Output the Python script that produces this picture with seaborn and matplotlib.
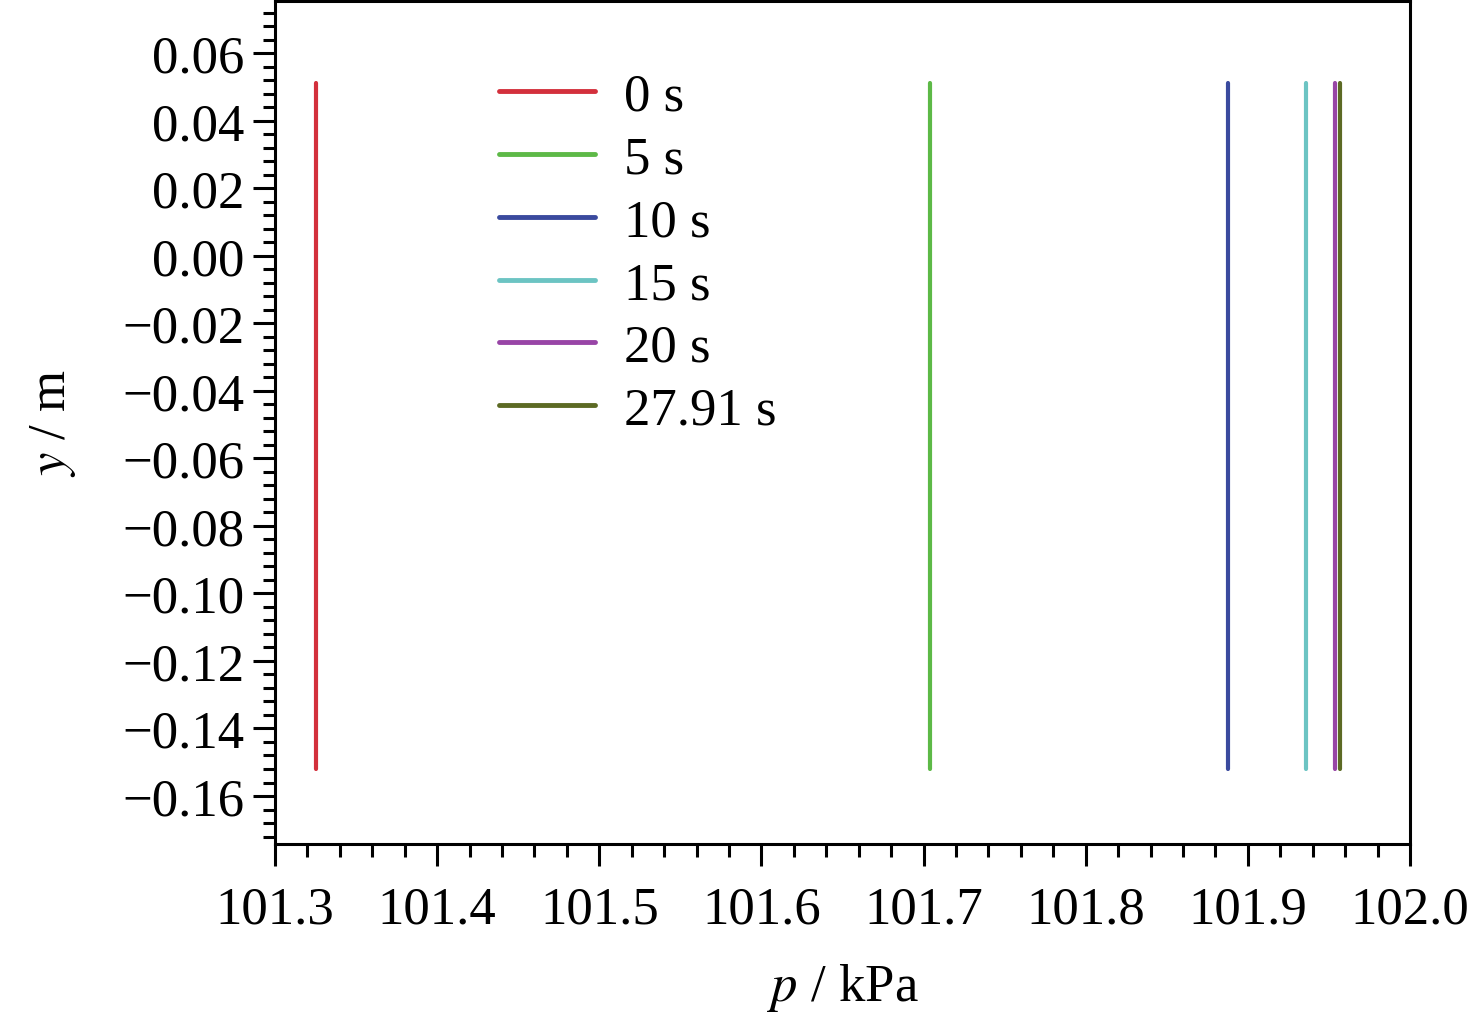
import numpy as np
import pandas as pd
import matplotlib
matplotlib.use("Agg")
import matplotlib.pyplot as plt
from matplotlib.ticker import MultipleLocator, FuncFormatter
import seaborn as sns

# 各时刻的压力分布（沿高度方向几乎不变）
labels = ["0 s", "5 s", "10 s", "15 s", "20 s", "27.91 s"]
y_pts = [-0.152, -0.067, 0.051]
p_0 = [101.325, 101.325, 101.325]
p_5 = [101.704, 101.704, 101.704]
p_10 = [101.888, 101.888, 101.888]
p_15 = [101.936, 101.936, 101.936]
p_20 = [101.9535, 101.9535, 101.9535]
p_2791 = [101.957, 101.957, 101.957]
colors = ["#d3303c", "#5db947", "#3a4a9e", "#6cc4c3", "#9845a6", "#5c6a24"]

series = [p_0, p_5, p_10, p_15, p_20, p_2791]
rows = []
for lab, ps in zip(labels, series):
    for p, y in zip(ps, y_pts):
        rows.append({"p": p, "y": y, "t": lab})
df = pd.DataFrame(rows)

sns.set_style("ticks")
plt.rcParams["font.family"] = ["Liberation Serif", "DejaVu Serif"]
plt.rcParams["mathtext.fontset"] = "stix"
plt.rcParams["text.color"] = "black"
plt.rcParams["axes.labelcolor"] = "black"
plt.rcParams["xtick.color"] = "black"
plt.rcParams["ytick.color"] = "black"

fig = plt.figure(figsize=(14.76, 10.2), dpi=100)
ax = fig.add_axes([0.1863, 0.1716, 0.769, 0.8264])

sns.lineplot(data=df, x="p", y="y", hue="t", hue_order=labels,
             palette=colors, sort=False, estimator=None, orient="y",
             linewidth=3, ax=ax)

ax.set_xlim(101.3, 102.0)
ax.set_ylim(-0.1742, 0.0754)
ax.xaxis.set_major_locator(MultipleLocator(0.1))
ax.xaxis.set_minor_locator(MultipleLocator(0.02))
ax.yaxis.set_major_locator(MultipleLocator(0.02))
ax.yaxis.set_minor_locator(MultipleLocator(0.004))
ax.xaxis.set_major_formatter(FuncFormatter(lambda v, _: f"{v:.1f}"))
ax.yaxis.set_major_formatter(FuncFormatter(lambda v, _: f"{v:.2f}".replace("-", "\u2212") if abs(v) > 1e-9 else "0.00"))

ax.tick_params(axis="both", which="major", length=16, width=2.2, labelsize=38, direction="out")
ax.tick_params(axis="both", which="minor", length=9, width=2.2, direction="out")
ax.tick_params(axis="x", pad=14)
ax.tick_params(axis="y", pad=6)
for s in ax.spines.values():
    s.set_linewidth(2.2)
    s.set_color("black")

ax.set_xlabel(r"$p$ / kPa", fontsize=38, labelpad=20)
ax.set_ylabel(r"$y$ / m", fontsize=38, labelpad=32)

leg = ax.legend(loc="upper left", bbox_to_anchor=(0.179, 0.940), frameon=False,
                fontsize=38, handlelength=1.82, handletextpad=0.55,
                labelspacing=0.28, borderaxespad=0)
for h in leg.get_lines():
    h.set_linewidth(3.5)

fig.savefig("out.png", dpi=100)
